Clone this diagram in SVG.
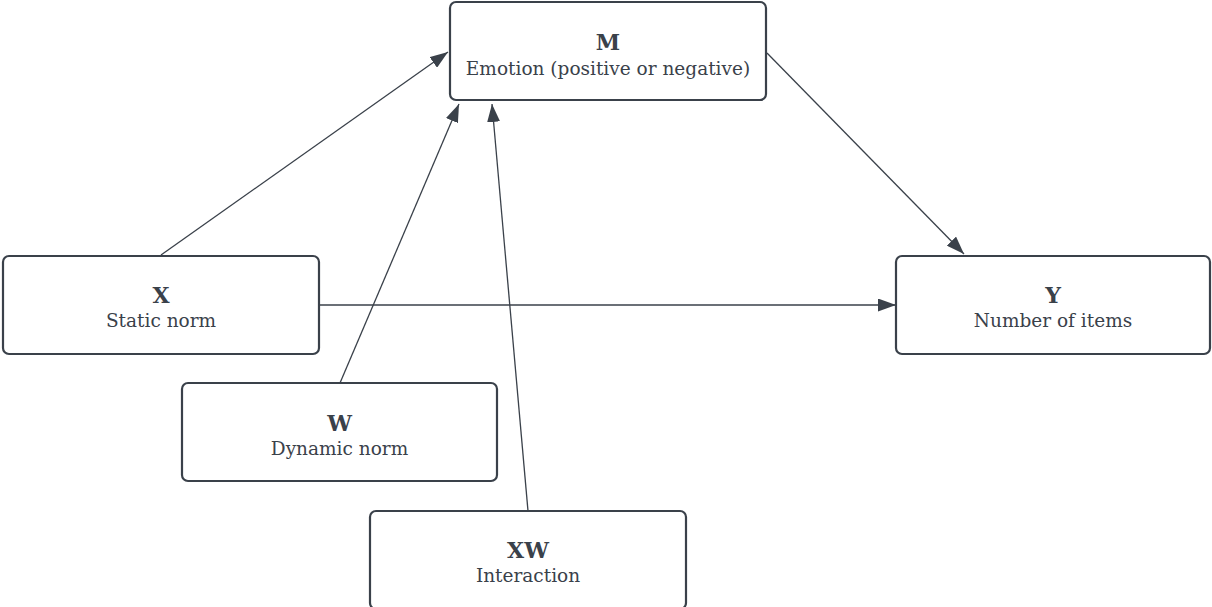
<svg xmlns="http://www.w3.org/2000/svg" width="1212" height="607" viewBox="0 0 1212 607">
  <style>
    .box { fill: #ffffff; stroke: #3a414a; stroke-width: 2.2; }
    .title { font-family: "DejaVu Serif", "Liberation Serif", serif; font-weight: bold; font-size: 22px; fill: #3a414a; text-anchor: middle; }
    .sub { font-family: "DejaVu Serif", "Liberation Serif", serif; font-size: 18.5px; fill: #3a414a; text-anchor: middle; }
    .edge { stroke: #3a414a; stroke-width: 1.3; fill: none; marker-end: url(#arrow); }
  </style>
  <defs>
    <marker id="arrow" viewBox="0 0 18 13" refX="18" refY="6.5" markerWidth="18" markerHeight="13" markerUnits="userSpaceOnUse" orient="auto">
      <path d="M0,0 L18,6.5 L0,13 Z" fill="#3a414a"/>
    </marker>
  </defs>
  <rect width="1212" height="607" fill="#ffffff"/>
  <g id="connectors">
    <line class="edge" x1="161" y1="255" x2="448" y2="52"/>
    <line class="edge" x1="340" y1="383" x2="459" y2="104"/>
    <line class="edge" x1="528" y1="511" x2="492" y2="104"/>
    <line class="edge" x1="319" y1="305" x2="896" y2="305"/>
    <line class="edge" x1="767" y1="53" x2="964" y2="254"/>
  </g>
  <g id="node-M">
    <rect class="box" x="450" y="2" width="316" height="98" rx="6"/>
    <text class="title" x="608" y="50">M</text>
    <text class="sub" x="608" y="75">Emotion (positive or negative)</text>
  </g>
  <g id="node-X">
    <rect class="box" x="3" y="256" width="316" height="98" rx="6"/>
    <text class="title" x="161" y="303">X</text>
    <text class="sub" x="161" y="327">Static norm</text>
  </g>
  <g id="node-Y">
    <rect class="box" x="896" y="256" width="314" height="98" rx="6"/>
    <text class="title" x="1053" y="303">Y</text>
    <text class="sub" x="1053" y="327">Number of items</text>
  </g>
  <g id="node-W">
    <rect class="box" x="182" y="383" width="315" height="98" rx="6"/>
    <text class="title" x="339.5" y="431">W</text>
    <text class="sub" x="339.5" y="455">Dynamic norm</text>
  </g>
  <g id="node-XW">
    <rect class="box" x="370" y="511" width="316" height="98" rx="6"/>
    <text class="title" x="528" y="558">XW</text>
    <text class="sub" x="528" y="582">Interaction</text>
  </g>
</svg>
